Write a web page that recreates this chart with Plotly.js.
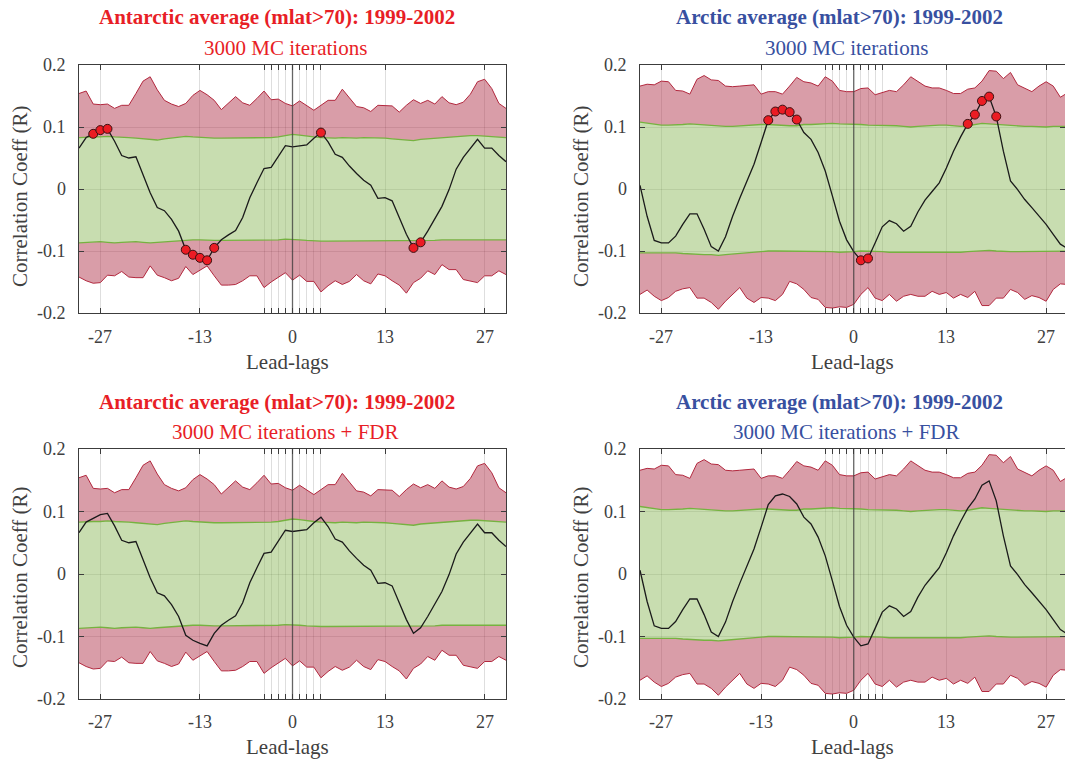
<!DOCTYPE html>
<html>
<head>
<meta charset="utf-8">
<script src="https://cdn.plot.ly/plotly-3.0.1.min.js"></script>
<style>html,body{margin:0;padding:0;background:#fff;}#chart{width:1065px;height:761px;}</style>
</head>
<body>
<div id="chart"></div>
<script>
// Lead-lag positions
const lags = [-30,-29,-28,-27,-26,-25,-24,-23,-22,-21,-20,-19,-18,-17,-16,-15,-14,-13,-12,-11,-10,-9,-8,-7,-6,-5,-4,-3,-2,-1,0,1,2,3,4,5,6,7,8,9,10,11,12,13,14,15,16,17,18,19,20,21,22,23,24,25,26,27,28,29,30];

// Antarctic average (mlat>70)
const antCorr = [0.066,0.083,0.089,0.095,0.097,0.077,0.054,0.050,0.052,0.024,-0.006,-0.030,-0.035,-0.049,-0.068,-0.098,-0.106,-0.111,-0.115,-0.095,-0.082,-0.074,-0.067,-0.046,-0.014,0.010,0.033,0.035,0.053,0.070,0.068,0.069,0.071,0.082,0.091,0.076,0.056,0.051,0.037,0.025,0.014,0.006,-0.015,-0.014,-0.019,-0.046,-0.073,-0.095,-0.086,-0.068,-0.048,-0.028,-0.001,0.032,0.051,0.066,0.080,0.066,0.066,0.054,0.044];
const antRedUp = [0.154,0.158,0.137,0.136,0.137,0.130,0.135,0.135,0.154,0.174,0.181,0.160,0.143,0.137,0.133,0.138,0.151,0.159,0.152,0.143,0.128,0.138,0.149,0.139,0.135,0.146,0.158,0.144,0.145,0.138,0.134,0.142,0.134,0.127,0.135,0.143,0.143,0.161,0.147,0.133,0.131,0.125,0.135,0.135,0.134,0.124,0.135,0.144,0.138,0.143,0.137,0.149,0.139,0.136,0.140,0.153,0.173,0.177,0.162,0.138,0.130];
const antRedLo = [-0.142,-0.148,-0.152,-0.151,-0.139,-0.140,-0.133,-0.142,-0.143,-0.143,-0.124,-0.139,-0.143,-0.148,-0.144,-0.125,-0.138,-0.131,-0.124,-0.140,-0.155,-0.155,-0.154,-0.148,-0.140,-0.140,-0.159,-0.150,-0.143,-0.135,-0.147,-0.139,-0.149,-0.149,-0.166,-0.156,-0.148,-0.154,-0.149,-0.138,-0.148,-0.153,-0.137,-0.140,-0.148,-0.155,-0.168,-0.151,-0.144,-0.132,-0.138,-0.122,-0.130,-0.130,-0.146,-0.149,-0.151,-0.140,-0.140,-0.132,-0.138];
const antGreenUp = [0.083,0.084,0.084,0.084,0.085,0.084,0.084,0.083,0.082,0.081,0.080,0.079,0.081,0.082,0.084,0.085,0.084,0.083,0.082,0.082,0.082,0.082,0.082,0.082,0.083,0.083,0.082,0.083,0.084,0.086,0.088,0.087,0.085,0.084,0.083,0.082,0.082,0.083,0.082,0.082,0.083,0.083,0.083,0.082,0.081,0.080,0.079,0.078,0.080,0.081,0.082,0.083,0.084,0.085,0.085,0.086,0.086,0.085,0.084,0.083,0.083];
const antGreenLo = [-0.087,-0.086,-0.085,-0.085,-0.086,-0.087,-0.086,-0.085,-0.085,-0.086,-0.087,-0.086,-0.085,-0.084,-0.083,-0.082,-0.082,-0.082,-0.083,-0.083,-0.083,-0.083,-0.083,-0.083,-0.082,-0.082,-0.082,-0.082,-0.082,-0.081,-0.081,-0.082,-0.083,-0.084,-0.084,-0.084,-0.084,-0.084,-0.083,-0.083,-0.084,-0.084,-0.084,-0.084,-0.083,-0.083,-0.083,-0.083,-0.083,-0.083,-0.083,-0.082,-0.082,-0.082,-0.082,-0.081,-0.081,-0.081,-0.082,-0.082,-0.082];
const antSigLags = [-28,-27,-26,-15,-14,-13,-12,-11,4,17,18];

// Arctic average (mlat>70)
const arcCorr = [0.006,-0.044,-0.083,-0.087,-0.087,-0.076,-0.057,-0.040,-0.040,-0.065,-0.093,-0.100,-0.077,-0.044,-0.015,0.012,0.040,0.075,0.111,0.125,0.128,0.124,0.112,0.091,0.080,0.059,0.029,-0.011,-0.052,-0.082,-0.101,-0.115,-0.112,-0.087,-0.061,-0.051,-0.056,-0.068,-0.060,-0.037,-0.018,-0.004,0.010,0.034,0.061,0.084,0.105,0.120,0.142,0.149,0.117,0.061,0.013,-0.001,-0.017,-0.030,-0.044,-0.057,-0.073,-0.089,-0.096];
const arcRedUp = [0.166,0.169,0.168,0.174,0.173,0.159,0.158,0.153,0.177,0.183,0.176,0.175,0.166,0.165,0.166,0.167,0.168,0.153,0.157,0.157,0.153,0.166,0.180,0.173,0.171,0.166,0.181,0.174,0.159,0.157,0.157,0.162,0.163,0.152,0.155,0.159,0.157,0.168,0.181,0.174,0.166,0.163,0.163,0.159,0.154,0.154,0.161,0.163,0.174,0.191,0.190,0.178,0.188,0.168,0.163,0.157,0.166,0.173,0.166,0.148,0.155];
const arcRedLo = [-0.170,-0.163,-0.173,-0.180,-0.175,-0.165,-0.161,-0.159,-0.176,-0.176,-0.183,-0.194,-0.181,-0.170,-0.159,-0.176,-0.183,-0.175,-0.176,-0.180,-0.170,-0.149,-0.153,-0.162,-0.175,-0.178,-0.191,-0.192,-0.190,-0.191,-0.186,-0.170,-0.159,-0.176,-0.180,-0.170,-0.181,-0.173,-0.170,-0.173,-0.173,-0.165,-0.170,-0.167,-0.176,-0.170,-0.175,-0.165,-0.188,-0.188,-0.176,-0.176,-0.162,-0.167,-0.178,-0.172,-0.175,-0.181,-0.162,-0.153,-0.154];
const arcGreenUp = [0.108,0.106,0.104,0.103,0.103,0.103,0.104,0.105,0.104,0.103,0.102,0.101,0.101,0.101,0.102,0.103,0.104,0.104,0.104,0.103,0.103,0.102,0.102,0.104,0.104,0.105,0.106,0.106,0.105,0.105,0.105,0.104,0.103,0.103,0.103,0.103,0.102,0.101,0.100,0.101,0.102,0.103,0.103,0.103,0.102,0.101,0.102,0.104,0.106,0.105,0.104,0.103,0.102,0.102,0.101,0.101,0.100,0.100,0.101,0.101,0.101];
const arcGreenLo = [-0.103,-0.103,-0.103,-0.102,-0.102,-0.103,-0.104,-0.105,-0.105,-0.106,-0.106,-0.107,-0.106,-0.105,-0.103,-0.102,-0.101,-0.100,-0.100,-0.100,-0.100,-0.101,-0.101,-0.100,-0.100,-0.100,-0.101,-0.101,-0.102,-0.102,-0.101,-0.100,-0.100,-0.100,-0.101,-0.102,-0.102,-0.103,-0.103,-0.103,-0.103,-0.103,-0.103,-0.103,-0.102,-0.102,-0.101,-0.100,-0.099,-0.099,-0.100,-0.101,-0.101,-0.101,-0.101,-0.101,-0.101,-0.101,-0.100,-0.100,-0.100];
const arcSigLags = [-12,-11,-10,-9,-8,1,2,16,17,18,19,20];

// Axis ticks (gridlines at all tick values; labels only where text is given)
const xTickVals = [-27,-13,-4,-3,-2,-1,0,1,2,3,4,13,27];
const xLabelVals = [-27,-13,0,13,27];
const xLabelText = ['-27','-13','0','13','27'];
const yTickVals = [-0.2,-0.1,0,0.1,0.2];
const yTickText = ['-0.2','-0.1','0','0.1','0.2'];

const RED_FILL = 'rgba(179,59,81,0.5)';
const RED_EDGE = 'rgb(178,40,62)';
const GREEN_FILL = 'rgba(145,187,97,0.5)';
const GREEN_EDGE = 'rgb(118,178,64)';
const FONT = 'Liberation Serif';
const RED_TXT = 'rgb(232,30,38)';
const BLUE_TXT = 'rgb(56,80,160)';
const AX_TXT = '#404040';

function panelTraces(idx, corr, rUp, rLo, gUp, gLo, sig){
  const xa = 'x' + (idx === 1 ? '' : idx), ya = 'y' + (idx === 1 ? '' : idx);
  const base = {x: lags, xaxis: xa, yaxis: ya, mode: 'lines', hoverinfo: 'skip', showlegend: false};
  const t = [
    Object.assign({}, base, {y: rLo, line: {color: RED_EDGE, width: 1}}),
    Object.assign({}, base, {y: gLo, fill: 'tonexty', fillcolor: RED_FILL, line: {color: GREEN_EDGE, width: 1.3}}),
    Object.assign({}, base, {y: gUp, fill: 'tonexty', fillcolor: GREEN_FILL, line: {color: GREEN_EDGE, width: 1.3}}),
    Object.assign({}, base, {y: rUp, fill: 'tonexty', fillcolor: RED_FILL, line: {color: RED_EDGE, width: 1}}),
    Object.assign({}, base, {y: corr, line: {color: '#1a1a1a', width: 1.3}})
  ];
  if (sig) {
    const sx = [], sy = [];
    sig.forEach(l => { const i = lags.indexOf(l); sx.push(l); sy.push(corr[i]); });
    t.push({x: sx, y: sy, xaxis: xa, yaxis: ya, mode: 'markers', showlegend: false, hoverinfo: 'skip',
      marker: {size: 9, color: 'rgb(235,28,36)', line: {color: '#3a1010', width: 1}}});
  }
  return t;
}

const data = [].concat(
  panelTraces(1, antCorr, antRedUp, antRedLo, antGreenUp, antGreenLo, antSigLags),
  panelTraces(2, arcCorr, arcRedUp, arcRedLo, arcGreenUp, arcGreenLo, arcSigLags),
  panelTraces(3, antCorr, antRedUp, antRedLo, antGreenUp, antGreenLo, null),
  panelTraces(4, arcCorr, arcRedUp, arcRedLo, arcGreenUp, arcGreenLo, null)
);

const W = 1065, H = 761;
function xAxis(dom, range, anchor){
  return {domain: dom, range: range, anchor: anchor, tickvals: xTickVals, showticklabels: false,
    showline: true, mirror: 'ticks', linecolor: '#3c3c3c', linewidth: 1, ticks: 'inside', ticklen: 5,
    tickcolor: '#3c3c3c', showgrid: true, gridcolor: 'rgba(0,0,0,0.13)', gridwidth: 1, zeroline: false,
    layer: 'above traces'};
}
function yAxis(dom, anchor){
  return {domain: dom, range: [-0.2, 0.2], anchor: anchor, tickvals: yTickVals, showticklabels: false,
    showline: true, mirror: 'ticks', linecolor: '#3c3c3c', linewidth: 1, ticks: 'inside', ticklen: 5,
    tickcolor: '#3c3c3c', showgrid: true, gridcolor: 'rgba(0,0,0,0.13)', gridwidth: 1, zeroline: false,
    layer: 'above traces'};
}
const xL = [79/W, 506/W], xR = [640/W, 1];
const yT = [1 - 313/H, 1 - 65/H], yB = [1 - 699/H, 1 - 449/H];

function ann(text, xpx, ypx, color, bold, size){
  return {text: bold ? '<b>' + text + '</b>' : text, x: xpx / W, y: 1 - ypx / H, xref: 'paper', yref: 'paper',
    xanchor: 'center', yanchor: 'middle', showarrow: false, font: {family: FONT, size: size, color: color}};
}
function zeroLine(xa, ya){
  return {type: 'line', xref: xa, yref: ya + ' domain', x0: 0, x1: 0, y0: 0, y1: 1,
    line: {color: 'rgba(60,60,60,0.75)', width: 1.3}, layer: 'above'};
}
// Axis labels as text annotations positioned through each subplot's axes
function axisText(xa, ya, xLabY, yLabX, xTitleX, xTitleY, yTitleX, yTitleY){
  const out = [];
  xLabelVals.forEach((v, i) => out.push({text: xLabelText[i], x: v, xref: xa, y: 1 - xLabY / H, yref: 'paper',
    xanchor: 'center', yanchor: 'middle', showarrow: false, font: {family: FONT, size: 18, color: AX_TXT}}));
  yTickVals.forEach((v, i) => out.push({text: yTickText[i], x: yLabX / W, xref: 'paper', y: v, yref: ya,
    xanchor: 'right', yanchor: 'middle', showarrow: false, font: {family: FONT, size: 18, color: AX_TXT}}));
  out.push({text: 'Lead-lags', x: xTitleX / W, y: 1 - xTitleY / H, xref: 'paper', yref: 'paper',
    xanchor: 'center', yanchor: 'middle', showarrow: false, font: {family: FONT, size: 21, color: AX_TXT}});
  out.push({text: 'Correlation Coeff (R)', x: yTitleX / W, y: 1 - yTitleY / H, xref: 'paper', yref: 'paper',
    textangle: -90, xanchor: 'center', yanchor: 'middle', showarrow: false, font: {family: FONT, size: 21, color: AX_TXT}});
  return out;
}

const layout = {
  width: W, height: H, margin: {l: 0, r: 0, t: 0, b: 0}, paper_bgcolor: '#fff', plot_bgcolor: '#fff',
  font: {family: FONT, color: AX_TXT},
  xaxis: xAxis(xL, [-30, 30], 'y'), yaxis: yAxis(yT, 'x'),
  xaxis2: xAxis(xR, [-30, 29.65], 'y2'), yaxis2: yAxis(yT, 'x2'),
  xaxis3: xAxis(xL, [-30, 30], 'y3'), yaxis3: yAxis(yB, 'x3'),
  xaxis4: xAxis(xR, [-30, 29.65], 'y4'), yaxis4: yAxis(yB, 'x4'),
  shapes: [zeroLine('x','y'), zeroLine('x2','y2'), zeroLine('x3','y3'), zeroLine('x4','y4')],
  annotations: [
    ann('Antarctic average (mlat&gt;70): 1999-2002', 277, 17, RED_TXT, true, 21),
    ann('3000 MC iterations', 285, 48, RED_TXT, false, 21),
    ann('Arctic average (mlat&gt;70): 1999-2002', 839, 17, BLUE_TXT, true, 21),
    ann('3000 MC iterations', 846, 48, BLUE_TXT, false, 21),
    ann('Antarctic average (mlat&gt;70): 1999-2002', 277, 402, RED_TXT, true, 21),
    ann('3000 MC iterations + FDR', 285, 432, RED_TXT, false, 21),
    ann('Arctic average (mlat&gt;70): 1999-2002', 839, 402, BLUE_TXT, true, 21),
    ann('3000 MC iterations + FDR', 846, 432, BLUE_TXT, false, 21)
  ].concat(
    axisText('x', 'y', 337, 68, 288, 362, 20, 196),
    axisText('x2', 'y2', 337, 629, 852, 362, 581, 196),
    axisText('x3', 'y3', 722, 68, 288, 747, 20, 577),
    axisText('x4', 'y4', 722, 629, 852, 747, 581, 577)
  )
};

Plotly.newPlot('chart', data, layout, {displayModeBar: false, staticPlot: true});
</script>
</body>
</html>
